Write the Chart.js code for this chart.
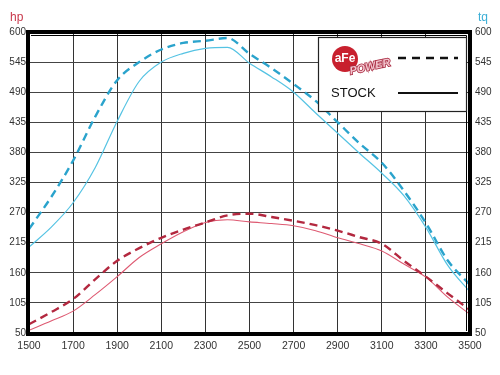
<!DOCTYPE html>
<html>
<head>
<meta charset="utf-8">
<script src="https://cdn.jsdelivr.net/npm/chart.js@4.4.1/dist/chart.umd.min.js"></script>
<style>
html,body{margin:0;padding:0;background:#fff;}
#wrap{width:500px;height:375px;position:relative;}
</style>
</head>
<body>
<div id="wrap"><canvas id="c" width="500" height="375"></canvas></div>
<script>
// ---- data ----
const rpm = [1500,1600,1700,1800,1900,2000,2100,2200,2300,2400,2500,2600,2700,2800,2900,3000,3100,3200,3300,3400,3500];
const afeTq   = [240,298,365,445,512,545,568,580,584,589,560,534,505,474,435,396,361,310,251,182,138];
const stockTq = [207,243,288,352,437,510,545,561,570,572,543,518,490,452,415,378,342,301,243,173,125];
const afeHp   = [66,88,112,148,182,205,224,239,252,265,268,262,255,247,237,225,213,182,153,122,92];
const stockHp = [55,72,90,120,153,188,213,235,252,257,253,250,246,237,224,213,200,176,152,115,84];
const yTicks = [50,105,160,215,270,325,380,435,490,545,600];
const xTicks = [1500,1700,1900,2100,2300,2500,2700,2900,3100,3300,3500];
const leftTitle = "hp";
const rightTitle = "tq";
const legendLogo = "aFe";
const legendPower = "POWER";
const legendStock = "STOCK";

const pts = (vals) => rpm.map((r,i)=>({x:r,y:vals[i]}));
const FONT = "'Liberation Sans', Arial, sans-serif";

const decor = {
  id:'decor',
  afterDatasetsDraw(chart){
    const {ctx, chartArea:a} = chart;
    ctx.save();
    // frame
    ctx.strokeStyle='#000';
    ctx.lineWidth=4;
    ctx.strokeRect(a.left-1, a.top, a.right-a.left+1, a.bottom-a.top+1);
    ctx.lineWidth=1;
    ctx.beginPath();
    ctx.moveTo(a.left+2, a.top+3.5); ctx.lineTo(a.right-3.5, a.top+3.5); ctx.lineTo(a.right-3.5, a.bottom-2);
    ctx.stroke();
    // legend box
    const bx=318, by=37, bw=148, bh=74;
    ctx.fillStyle='#fff';
    ctx.fillRect(bx,by,bw,bh);
    ctx.lineWidth=1.2;
    ctx.strokeStyle='#222';
    ctx.strokeRect(bx+0.5,by+0.5,bw,bh);
    // logo
    ctx.fillStyle='#c8202e';
    ctx.beginPath(); ctx.arc(345,59,13,0,Math.PI*2); ctx.fill();
    ctx.fillStyle='#fff';
    ctx.font="bold 12px "+FONT;
    ctx.textAlign='center'; ctx.textBaseline='middle';
    ctx.fillText(legendLogo,345,59);
    ctx.save();
    ctx.translate(370,67); ctx.rotate(-0.22);
    ctx.font="italic bold 11px "+FONT;
    ctx.fillStyle='#f2c4cd';
    ctx.strokeStyle='#a8283f'; ctx.lineWidth=1.6;
    ctx.strokeText(legendPower,0,0);
    ctx.fillText(legendPower,0,0);
    ctx.restore();
    // legend lines
    ctx.strokeStyle='#111';
    ctx.lineWidth=2.5;
    ctx.setLineDash([8,6]);
    ctx.beginPath(); ctx.moveTo(398,58); ctx.lineTo(458,58); ctx.stroke();
    ctx.setLineDash([]);
    ctx.lineWidth=2;
    ctx.beginPath(); ctx.moveTo(398,93); ctx.lineTo(458,93); ctx.stroke();
    ctx.fillStyle='#111';
    ctx.font="13px "+FONT;
    ctx.textAlign='left'; ctx.textBaseline='middle';
    ctx.fillText(legendStock,331,93);
    // axis titles
    ctx.font="12px "+FONT;
    ctx.textAlign='left'; ctx.textBaseline='middle';
    ctx.fillStyle='#c8374a';
    ctx.fillText(leftTitle,10,18);
    ctx.fillStyle='#3aaed6';
    ctx.fillText(rightTitle,478,18);
    ctx.restore();
  }
};

new Chart(document.getElementById('c'), {
  type:'line',
  data:{
    datasets:[
      {data:pts(afeTq), borderColor:'#2aa3cc', borderWidth:2.4, borderDash:[8,5], yAxisID:'y2'},
      {data:pts(stockTq), borderColor:'#55c3e3', borderWidth:1.2, yAxisID:'y2'},
      {data:pts(afeHp), borderColor:'#b3283f', borderWidth:2.4, borderDash:[8,5], yAxisID:'y'},
      {data:pts(stockHp), borderColor:'#de5a72', borderWidth:1.1, yAxisID:'y'}
    ]
  },
  options:{
    responsive:false,
    animation:false,
    layout:{padding:{top:32,left:0,right:0,bottom:0}},
    elements:{point:{radius:0}, line:{cubicInterpolationMode:'monotone', fill:false}},
    plugins:{legend:{display:false}, tooltip:{enabled:false}},
    scales:{
      x:{type:'linear', min:1500, max:3500,
         afterBuildTicks(s){ s.ticks = xTicks.map(v=>({value:v})); },
         afterFit(s){ s.height=42; },
         grid:{color:'#333', lineWidth:1, drawTicks:false},
         border:{display:false},
         ticks:{color:'#333', font:{family:FONT, size:10.5}, padding:7, maxRotation:0, callback:v=>String(v)}
      },
      y:{position:'left', min:50, max:600,
         afterBuildTicks(s){ s.ticks = yTicks.map(v=>({value:v})); },
         afterFit(s){ s.width=29; },
         grid:{color:'#444', lineWidth:1, drawTicks:false},
         border:{display:false},
         ticks:{color:'#333', font:{family:FONT, size:10}, padding:3, callback:v=>String(v)}
      },
      y2:{position:'right', min:50, max:600,
         afterBuildTicks(s){ s.ticks = yTicks.map(v=>({value:v})); },
         afterFit(s){ s.width=30; },
         grid:{display:false, drawTicks:false},
         border:{display:false},
         ticks:{color:'#333', font:{family:FONT, size:10}, padding:5, callback:v=>String(v)}
      }
    }
  },
  plugins:[decor]
});
</script>
</body>
</html>
